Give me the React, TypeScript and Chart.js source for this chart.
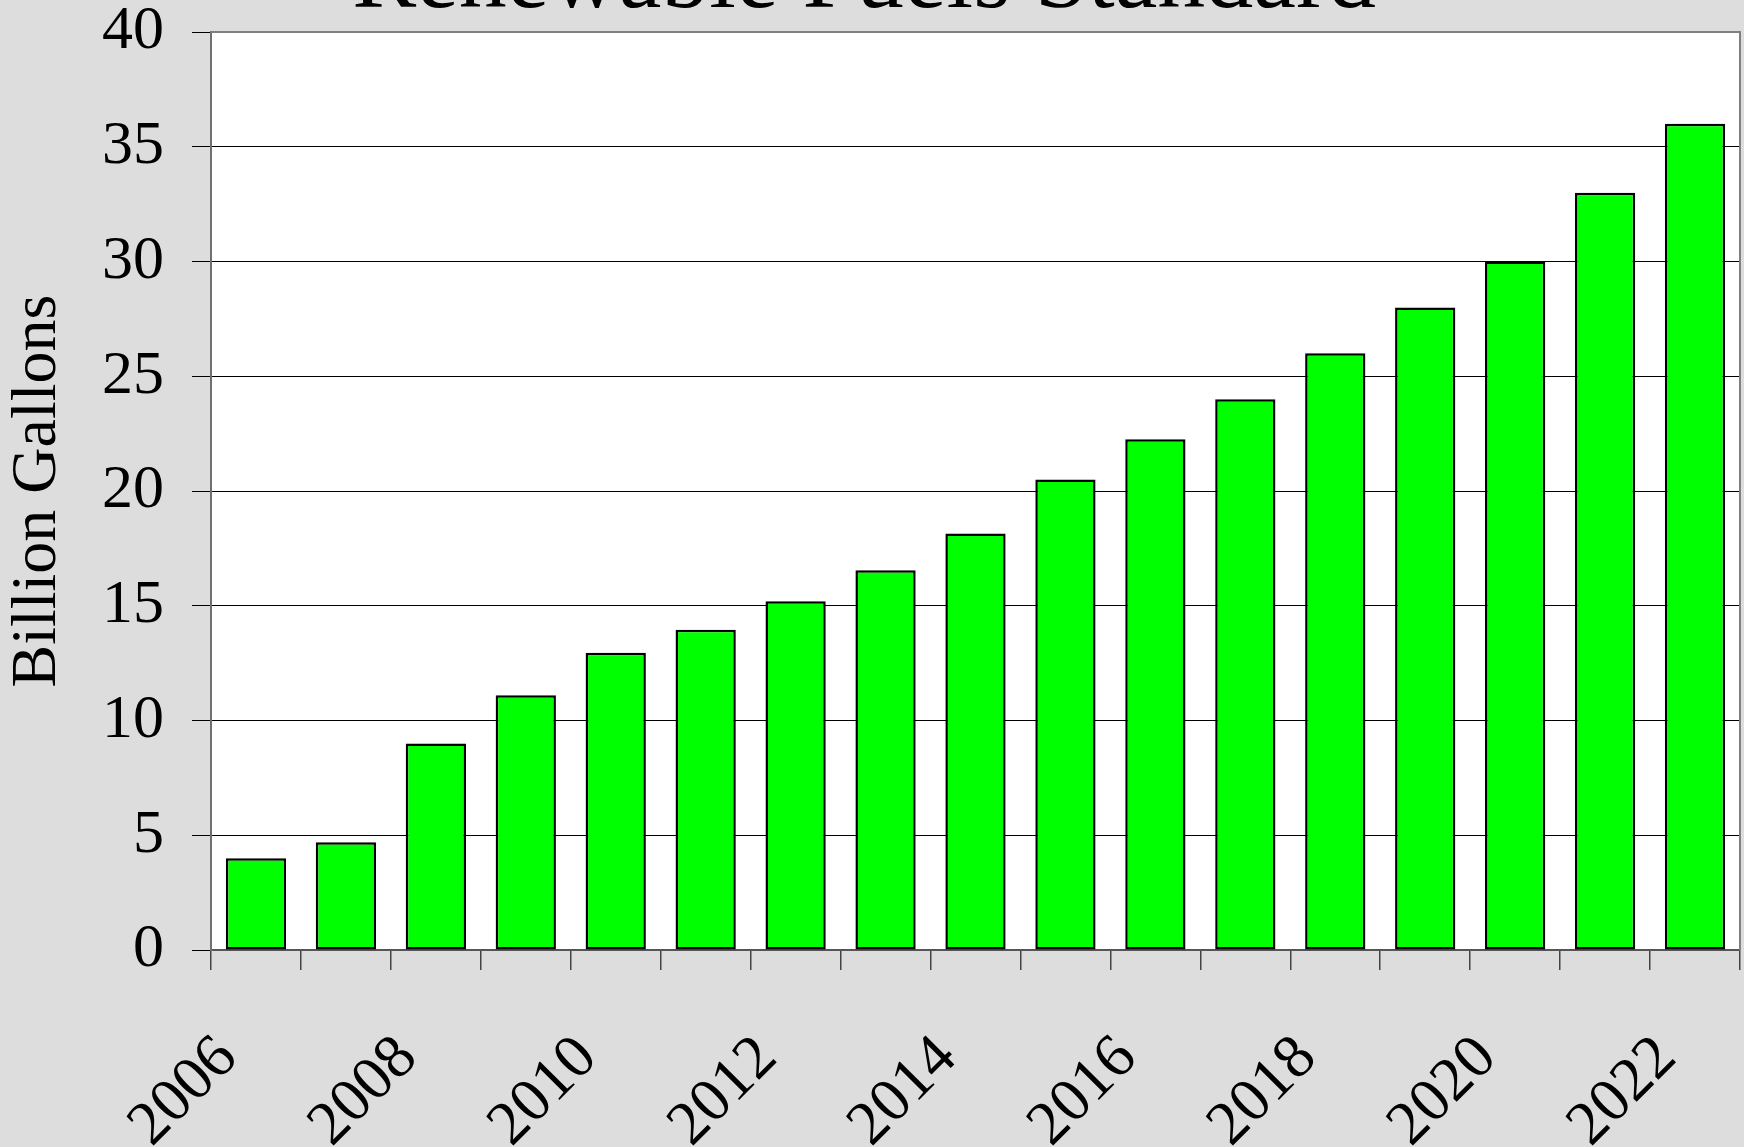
import React, { useEffect, useRef } from "react";
import { Chart, registerables } from "chart.js";

Chart.register(...registerables);

const chartTitle = "Renewable Fuels Standard";
const yAxisTitle = "Billion Gallons";
const years = ["2006", "2007", "2008", "2009", "2010", "2011", "2012", "2013", "2014", "2015", "2016", "2017", "2018", "2019", "2020", "2021", "2022"];
const gallons = [4.0, 4.7, 9.0, 11.1, 12.95, 13.95, 15.2, 16.55, 18.15, 20.5, 22.25, 24.0, 26.0, 28.0, 30.0, 33.0, 36.0];
const yMin = 0;
const yMax = 40;
const yStep = 5;

const SERIF = "'Liberation Serif', 'Times New Roman', serif";

const framePlugin = {
  id: "frame",
  beforeDraw(chart: any) {
    const { ctx, chartArea } = chart;
    ctx.save();
    ctx.fillStyle = "#dddddd";
    ctx.fillRect(0, 0, chart.width, chart.height);
    ctx.fillStyle = "#ffffff";
    ctx.fillRect(chartArea.left, chartArea.top, chartArea.right - chartArea.left, chartArea.bottom - chartArea.top);
    ctx.restore();
  },
  afterDraw(chart: any) {
    const { ctx, chartArea } = chart;
    ctx.save();
    ctx.strokeStyle = "#808080";
    ctx.lineWidth = 2;
    ctx.beginPath();
    ctx.moveTo(chartArea.left, chartArea.top);
    ctx.lineTo(chartArea.right, chartArea.top);
    ctx.lineTo(chartArea.right, chartArea.bottom);
    ctx.stroke();
    ctx.fillStyle = "#000000";
    ctx.font = `96px ${SERIF}`;
    ctx.textAlign = "center";
    ctx.textBaseline = "alphabetic";
    ctx.fillText(chartTitle, 864, 7);
    ctx.restore();
  },
};

export default function App() {
  const ref = useRef<HTMLCanvasElement | null>(null);
  useEffect(() => {
    if (!ref.current) return;
    const chart = new Chart(ref.current, {
      type: "bar",
      data: {
        labels: years,
        datasets: [
          {
            data: gallons,
            backgroundColor: "#00ff00",
            borderColor: "#000000",
            borderWidth: 2.5,
            borderSkipped: false,
            barPercentage: 0.67,
            categoryPercentage: 1,
          },
        ],
      },
      options: {
        animation: false,
        responsive: false,
        maintainAspectRatio: false,
        layout: { padding: { left: 0, top: 32, right: 4, bottom: 0 } },
        plugins: { legend: { display: false }, tooltip: { enabled: false }, title: { display: false } },
        scales: {
          x: {
            type: "category",
            offset: true,
            grid: { display: true, drawOnChartArea: false, drawTicks: true, tickLength: 20, tickColor: "#444444", offset: true, lineWidth: 1.5 },
            border: { display: true, color: "#555555", width: 2 },
            ticks: {
              autoSkip: false,
              maxRotation: 45,
              minRotation: 45,
              padding: 52,
              labelOffset: -28,
              color: "#000000",
              font: { family: SERIF, size: 62 },
              callback: (_v: any, i: number) => (i % 2 === 0 ? years[i] : ""),
            },
            afterFit: (s: any) => {
              s.height = 197;
              s.paddingLeft = 0;
              s.paddingRight = 0;
            },
          },
          y: {
            min: yMin,
            max: yMax,
            grid: { color: "#000000", lineWidth: 1, tickLength: 19, drawTicks: true },
            border: { display: true, color: "#707070", width: 2 },
            ticks: {
              stepSize: yStep,
              padding: 28,
              color: "#000000",
              font: { family: SERIF, size: 62 },
            },
            title: {
              display: true,
              text: yAxisTitle,
              color: "#000000",
              font: { family: SERIF, size: 64 },
              padding: 0,
            },
            afterFit: (s: any) => {
              s.width = 211;
              s.paddingTop = 0;
              s.paddingBottom = 0;
            },
          },
        },
      },
      plugins: [framePlugin],
    });
    return () => chart.destroy();
  }, []);
  return (
    <div style={{ position: "fixed", left: 0, top: 0, width: 1744, height: 1147, background: "#dddddd" }}>
      <canvas ref={ref} width={1744} height={1147} style={{ display: "block", width: 1744, height: 1147 }} />
    </div>
  );
}
